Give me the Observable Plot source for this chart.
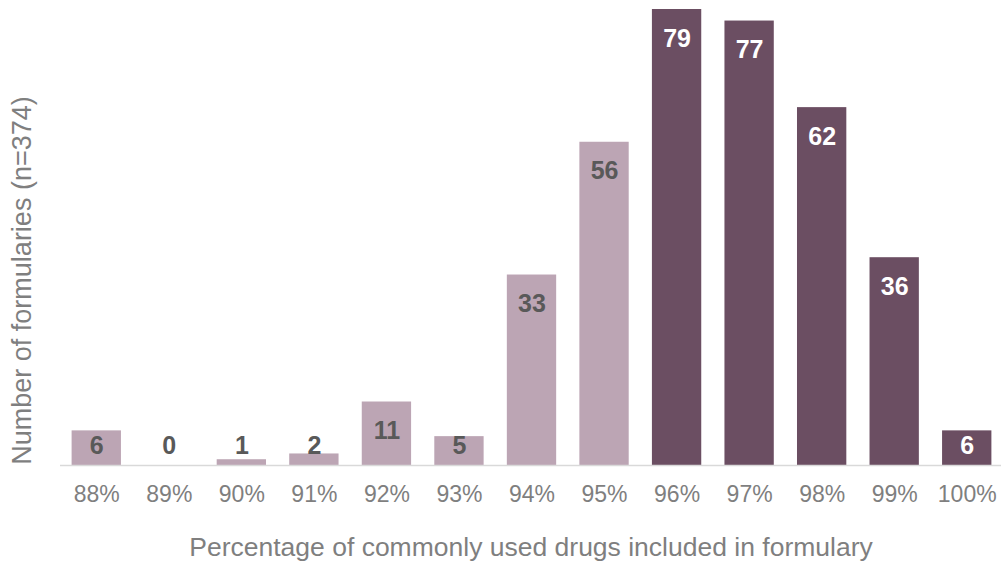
<!DOCTYPE html>
<html>
<head>
<meta charset="utf-8">
<script src="https://cdn.jsdelivr.net/npm/d3@7"></script>
<script src="https://cdn.jsdelivr.net/npm/@observablehq/plot@0.6"></script>
<style>
  html, body { margin: 0; padding: 0; background: #fff; }
  #chart svg { display: block; }
</style>
</head>
<body>
<div id="chart"></div>
<script>
const categories = ["88%", "89%", "90%", "91%", "92%", "93%", "94%", "95%", "96%", "97%", "98%", "99%", "100%"];
const counts = [6, 0, 1, 2, 11, 5, 33, 56, 79, 77, 62, 36, 6];
const groups = ["below", "below", "below", "below", "below", "below", "below", "below", "above", "above", "above", "above", "above"];
const xTitle = "Percentage of commonly used drugs included in formulary";
const yTitle = "Number of formularies (n=374)";

const data = categories.map((c, i) => ({ category: c, value: counts[i], group: groups[i] }));

const font = "'Liberation Sans', Arial, Helvetica, sans-serif";

const chart = Plot.plot({
  width: 1001,
  height: 563,
  marginLeft: 60,
  marginRight: 0,
  marginTop: 9,
  marginBottom: 98,
  style: { fontFamily: font, background: "#fff" },
  x: { domain: categories, range: [60, 1003], round: false, paddingInner: 0.32, paddingOuter: 0.16, label: null },
  y: { domain: [0, 79], axis: null },
  color: { domain: ["below", "above"], range: ["#bca5b4", "#6b4e62"] },
  marks: [
    Plot.barY(data, { x: "category", y: "value", fill: "group" }),
    Plot.ruleY([0], { stroke: "#d9d9d9", strokeWidth: 1.5 }),
    Plot.axisX({ tickSize: 0, tickPadding: 20, fontSize: 23, color: "#7f7f7f", label: null }),
    Plot.text(data, {
      x: "category",
      y: d => Math.max(d.value - 5.03, 3.4),
      text: d => String(d.value),
      fill: d => d.group === "above" ? "#ffffff" : "#595959",
      fontSize: 25,
      fontWeight: "bold",
      lineAnchor: "middle"
    }),
    Plot.text([xTitle], {
      frameAnchor: "bottom",
      dy: 82,
      fontSize: 26.5,
      fill: "#7f7f7f",
      textAnchor: "middle",
      lineAnchor: "middle"
    }),
    Plot.text([yTitle], {
      frameAnchor: "left",
      rotate: -90,
      dx: -38,
      dy: 43,
      fontSize: 27,
      fill: "#7f7f7f",
      textAnchor: "middle",
      lineAnchor: "middle"
    })
  ]
});

document.getElementById("chart").appendChild(chart);
</script>
</body>
</html>
